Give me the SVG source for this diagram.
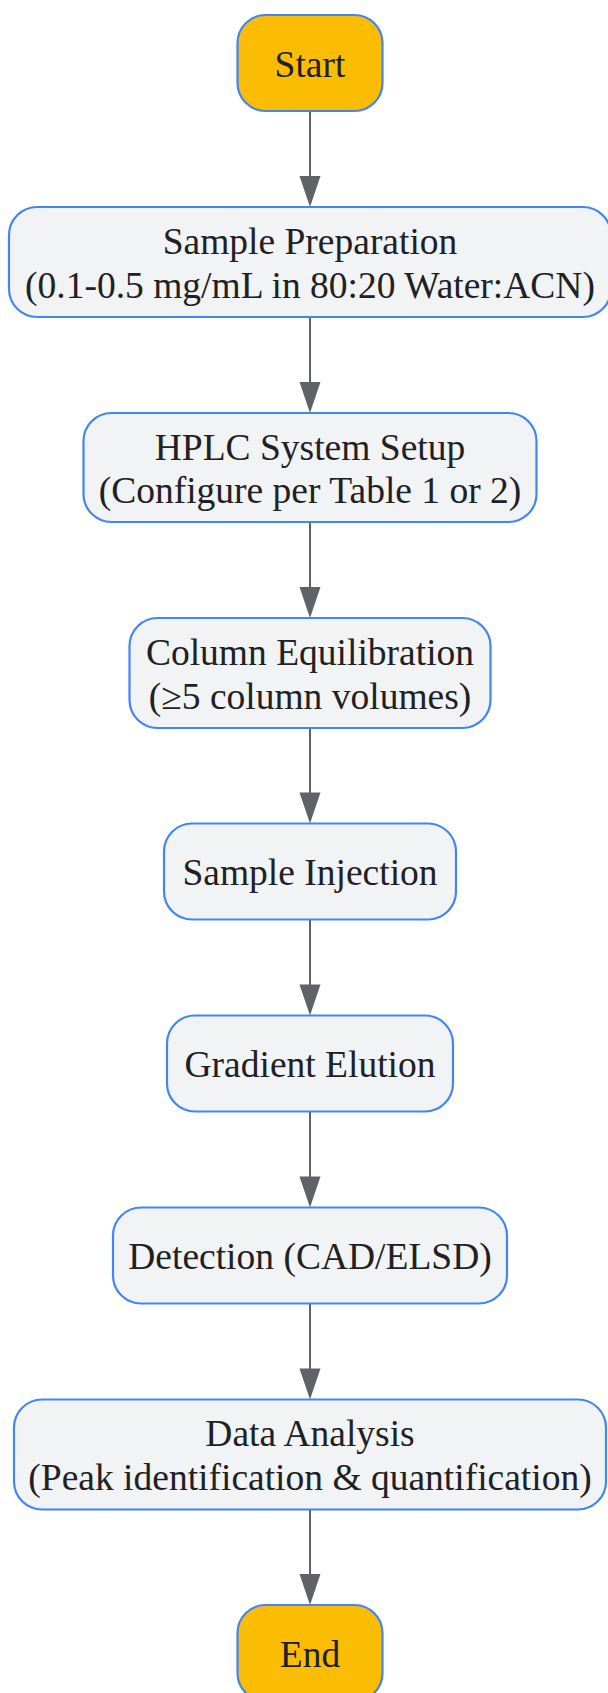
<svg xmlns="http://www.w3.org/2000/svg" width="608" height="1693" viewBox="0 0 608 1693">
<style>
.n rect{fill:#F1F3F4;stroke:#4285F4;stroke-width:2.2}
.t rect{fill:#FBBC04;stroke:#4285F4;stroke-width:2.2}
text{font-family:"Liberation Serif","Times New Roman",serif;font-size:37.5px;fill:#202124;text-anchor:middle}
.e line{stroke:#5F6368;stroke-width:2}
.e polygon{fill:#5F6368}
</style>
<rect width="608" height="1693" fill="#FFFFFF"/>
<g class="e" id="connectors">
<line x1="310" y1="111" x2="310" y2="180"/><polygon points="310,207 299.5,176 320.5,176"/>
<line x1="310" y1="317" x2="310" y2="386"/><polygon points="310,413 299.5,382 320.5,382"/>
<line x1="310" y1="522" x2="310" y2="591"/><polygon points="310,618 299.5,587 320.5,587"/>
<line x1="310" y1="728" x2="310" y2="796"/><polygon points="310,823.5 299.5,792.5 320.5,792.5"/>
<line x1="310" y1="919.5" x2="310" y2="988"/><polygon points="310,1015.5 299.5,984.5 320.5,984.5"/>
<line x1="310" y1="1111.5" x2="310" y2="1180"/><polygon points="310,1207.5 299.5,1176.5 320.5,1176.5"/>
<line x1="310" y1="1303.5" x2="310" y2="1372"/><polygon points="310,1399.5 299.5,1368.5 320.5,1368.5"/>
<line x1="310" y1="1509.5" x2="310" y2="1578"/><polygon points="310,1605 299.5,1574 320.5,1574"/>
</g>
<g id="start" class="t"><rect x="237.5" y="15" width="145" height="96" rx="28"/><text x="310" y="77">Start</text></g>
<g id="prep" class="n"><rect x="9" y="207" width="602" height="110" rx="28"/><text x="310" y="254">Sample Preparation</text><text x="310" y="297.5">(0.1-0.5 mg/mL in 80:20 Water:ACN)</text></g>
<g id="setup" class="n"><rect x="83.5" y="413" width="453" height="109" rx="28"/><text x="310" y="459.5">HPLC System Setup</text><text x="310" y="503">(Configure per Table 1 or 2)</text></g>
<g id="equil" class="n"><rect x="129.5" y="618" width="361" height="110" rx="28"/><text x="310" y="665">Column Equilibration</text><text x="310" y="708.5">(≥5 column volumes)</text></g>
<g id="inject" class="n"><rect x="164" y="823.5" width="292" height="96" rx="28"/><text x="310" y="885">Sample Injection</text></g>
<g id="elution" class="n"><rect x="167" y="1015.5" width="286" height="96" rx="28"/><text x="310" y="1077">Gradient Elution</text></g>
<g id="detect" class="n"><rect x="113" y="1207.5" width="394" height="96" rx="28"/><text x="310" y="1269">Detection (CAD/ELSD)</text></g>
<g id="analysis" class="n"><rect x="14" y="1399.5" width="592" height="110" rx="28"/><text x="310" y="1446">Data Analysis</text><text x="310" y="1489.5">(Peak identification &amp; quantification)</text></g>
<g id="end" class="t"><rect x="237.5" y="1605" width="145" height="96" rx="28"/><text x="310" y="1667">End</text></g>
</svg>
